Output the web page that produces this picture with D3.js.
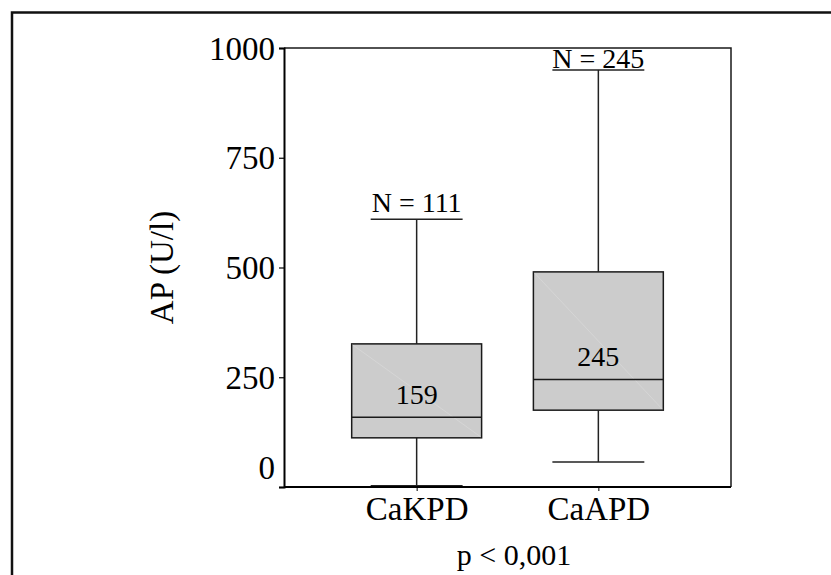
<!DOCTYPE html>
<html>
<head>
<meta charset="utf-8">
<script src="https://cdn.jsdelivr.net/npm/d3@7"></script>
<style>
  html, body { margin: 0; padding: 0; background: #fff; }
  svg { display: block; }
  text { font-family: "Liberation Serif", "Times New Roman", serif; fill: #000; }
</style>
</head>
<body>
<svg id="chart" width="831" height="575"></svg>
<script>
// Alkaline phosphatase by group: box-plot summary per category
const categories = ["CaKPD", "CaAPD"];
const groupN = [111, 245];
const whiskerLow = [3, 57];
const quartile1 = [112, 175];
const medians = [159, 245];
const quartile3 = [326, 490];
const whiskerHigh = [610, 950];
const yTicks = [0, 250, 500, 750, 1000];

const svg = d3.select("#chart");
const plot = { left: 284, right: 731, top: 48, bottom: 487 };

// outer frame (open to the right and bottom)
svg.append("path")
  .attr("d", `M12,575 L12,12.5 L831,12.5`)
  .attr("fill", "none").attr("stroke", "#111").attr("stroke-width", 2.5);

const x = d3.scalePoint().domain(categories).range([plot.left, plot.right]).padding(0.73);
const y = d3.scaleLinear().domain([0, 1000]).range([plot.bottom, plot.top]);
const step = x.step();
const boxW = step * 0.715;
const capW = step * 0.506;

const rows = categories.map((c, i) => ({
  cat: c, n: groupN[i], lo: whiskerLow[i], q1: quartile1[i],
  med: medians[i], q3: quartile3[i], hi: whiskerHigh[i]
}));

// plot frame: top and right edges
svg.append("path")
  .attr("d", `M${plot.left},${plot.top} L${plot.right},${plot.top} L${plot.right},${plot.bottom}`)
  .attr("fill", "none").attr("stroke", "#1a1a1a").attr("stroke-width", 1.5);

const g = svg.append("g");

rows.forEach(d => {
  const cx = x(d.cat);
  // whiskers
  g.append("line").attr("x1", cx).attr("x2", cx).attr("y1", y(d.hi)).attr("y2", y(d.q3))
    .attr("stroke", "#222").attr("stroke-width", 1.5);
  g.append("line").attr("x1", cx).attr("x2", cx).attr("y1", y(d.q1)).attr("y2", y(d.lo))
    .attr("stroke", "#222").attr("stroke-width", 1.5);
  // caps
  [d.hi, d.lo].forEach(v => {
    g.append("line").attr("x1", cx - capW / 2).attr("x2", cx + capW / 2)
      .attr("y1", y(v)).attr("y2", y(v))
      .attr("stroke", "#222").attr("stroke-width", 1.5);
  });
  // box
  g.append("rect")
    .attr("x", cx - boxW / 2).attr("y", y(d.q3))
    .attr("width", boxW).attr("height", y(d.q1) - y(d.q3))
    .attr("fill", "#cccccc").attr("stroke", "#1a1a1a").attr("stroke-width", 1.5);
  // faint diagonal in the fill
  g.append("line")
    .attr("x1", cx - boxW / 2 + 1).attr("y1", y(d.q3) + 1)
    .attr("x2", cx + boxW / 2 - 1).attr("y2", y(d.q1) - 1)
    .attr("stroke", "#dcdcdc").attr("stroke-width", 0.6);
  // median
  g.append("line").attr("x1", cx - boxW / 2).attr("x2", cx + boxW / 2)
    .attr("y1", y(d.med)).attr("y2", y(d.med))
    .attr("stroke", "#1a1a1a").attr("stroke-width", 1.5);
  // median value
  g.append("text").attr("x", cx).attr("y", y(d.med) - 13)
    .attr("text-anchor", "middle").attr("font-size", 28).text(d.med);
  // group size above the upper cap
  g.append("text").attr("x", cx)
    .attr("y", Math.max(y(d.hi) - 7, plot.top + 20))
    .attr("text-anchor", "middle").attr("font-size", 28).text(`N = ${d.n}`);
});

// y axis
const yAxis = svg.append("g").attr("transform", `translate(${plot.left},0)`)
  .call(d3.axisLeft(y).tickValues(yTicks).tickSize(5).tickPadding(4).tickFormat(d3.format("d")));
yAxis.select(".domain").attr("stroke", "#000").attr("stroke-width", 2);
yAxis.selectAll(".tick line").attr("stroke", "#000").attr("stroke-width", 1.2);
yAxis.selectAll(".tick text")
  .attr("font-family", "Liberation Serif").attr("font-size", 33).attr("fill", "#000")
  .attr("dy", d => d === 0 ? "-0.25em" : "0.34em");

// x axis
const xAxis = svg.append("g").attr("transform", `translate(0,${plot.bottom})`)
  .call(d3.axisBottom(x).tickSize(4).tickPadding(6).tickSizeOuter(0));
xAxis.select(".domain").attr("stroke", "#000").attr("stroke-width", 2)
  .attr("d", `M${plot.left},0H${plot.right}`);
xAxis.selectAll(".tick line").attr("stroke", "#000").attr("stroke-width", 1);
xAxis.selectAll(".tick text")
  .attr("font-family", "Liberation Serif").attr("font-size", 33).attr("fill", "#000");

// axis title
svg.append("text")
  .attr("transform", `translate(173,${(plot.top + plot.bottom) / 2}) rotate(-90)`)
  .attr("text-anchor", "middle").attr("font-size", 33).text("AP (U/l)");

// test result
svg.append("text").attr("x", 514).attr("y", 565)
  .attr("text-anchor", "middle").attr("font-size", 30).text("p < 0,001");
</script>
</body>
</html>
